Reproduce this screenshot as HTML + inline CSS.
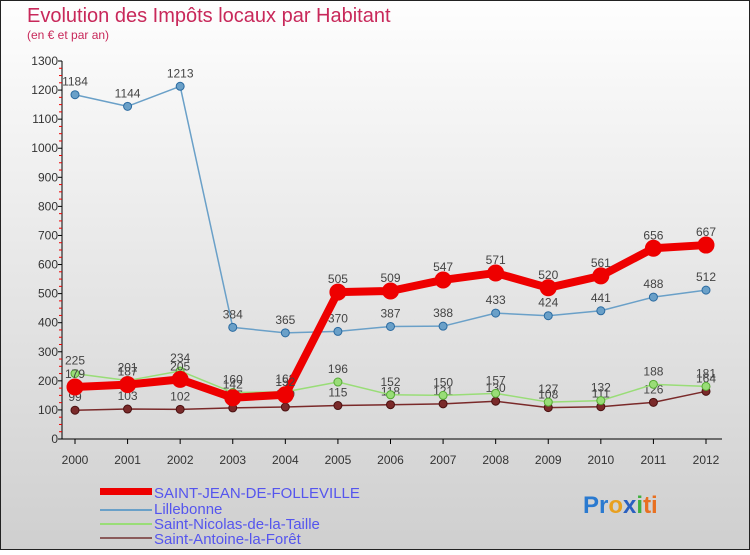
<!DOCTYPE html>
<html><head><meta charset="utf-8"><style>
html,body{margin:0;padding:0}
body{width:750px;height:550px;overflow:hidden;font-family:"Liberation Sans",sans-serif}
</style></head><body>
<svg id="c" width="750" height="550" xmlns="http://www.w3.org/2000/svg">
<defs><linearGradient id="bg" x1="0" y1="0" x2="0" y2="1"><stop offset="0" stop-color="#fefefe"/><stop offset="1" stop-color="#cfcfcf"/></linearGradient></defs>
<rect x="0.5" y="0.5" width="749" height="549" fill="url(#bg)" stroke="#222"/>
<text x="27" y="22" font-size="20" fill="#c8285a">Evolution des Impôts locaux par Habitant</text>
<text x="27" y="39" font-size="12" fill="#c8285a">(en € et par an)</text>
<g id="axes"></g><g id="series"></g>
<g font-size="15" fill="#5555ee">
<rect x="100" y="488" width="52" height="7" fill="#ee0000"/>
<text x="154" y="498">SAINT-JEAN-DE-FOLLEVILLE</text>
<rect x="100" y="509" width="52" height="2" fill="#6aa0c8"/>
<text x="154" y="514">Lillebonne</text>
<rect x="100" y="523" width="52" height="2" fill="#99dd77"/>
<text x="154" y="529">Saint-Nicolas-de-la-Taille</text>
<rect x="100" y="537" width="52" height="2" fill="#8a5a5a"/>
<text x="154" y="544">Saint-Antoine-la-Forêt</text>
</g>
<text x="583" y="513" font-size="24" font-weight="bold"><tspan fill="#2a7ad0">Pr</tspan><tspan fill="#e8a020">o</tspan><tspan fill="#2a60c0">x</tspan><tspan fill="#40b040">i</tspan><tspan fill="#e87020">ti</tspan></text>
</svg>
<script>
const years=["2000","2001","2002","2003","2004","2005","2006","2007","2008","2009","2010","2011","2012"];
const yTicks=[0,100,200,300,400,500,600,700,800,900,1000,1100,1200,1300];
const saintJean=[179,187,205,142,152,505,509,547,571,520,561,656,667];
const lillebonne=[1184,1144,1213,384,365,370,387,388,433,424,441,488,512];
const saintNicolas=[225,201,234,160,162,196,152,150,157,127,132,188,181];
const saintAntoine=[99,103,102,107,110,115,118,121,130,108,111,126,164];
const NS="http://www.w3.org/2000/svg";
const X=i=>75+i*(706-75)/(years.length-1);
const Y=v=>439-v*(439-61)/1300;
function mk(t,a,p){const e=document.createElementNS(NS,t);for(const k in a)e.setAttribute(k,a[k]);p.appendChild(e);return e;}
const ax=document.getElementById('axes'),sr=document.getElementById('series');
const yl=mk('line',{x1:62,y1:61,x2:62,y2:439,stroke:'#000'},ax);


const xl=mk('line',{x1:62,y1:439,x2:722,y2:439,stroke:'#000'},ax);


yTicks.forEach(v=>{
  mk('line',{x1:58,y1:Y(v),x2:62,y2:Y(v),stroke:'#000'},ax);
  if(v<1300){for(let k=1;k<4;k++)mk('line',{x1:59,y1:Y(v+k*25),x2:62,y2:Y(v+k*25),stroke:'#e00'},ax);}
  const t=mk('text',{x:58,y:Y(v)+4,'font-size':12,fill:'#333','text-anchor':'end'},ax);t.textContent=v;
  
  
});
years.forEach((y,i)=>{
  mk('line',{x1:X(i),y1:439,x2:X(i),y2:444,stroke:'#000'},ax);
  const t=mk('text',{x:X(i),y:464,'font-size':12,fill:'#333','text-anchor':'middle'},ax);t.textContent=y;
  
  
});
function series(vals,color,w,r,name,dark){
  const g=mk('g',{},sr);
  
  
  const p=mk('polyline',{points:vals.map((v,i)=>X(i)+','+Y(v)).join(' '),fill:'none',stroke:color,'stroke-width':w,'stroke-linejoin':'round'},g);
  vals.forEach((v,i)=>{
    const c=mk('circle',{cx:X(i),cy:Y(v),r:r,fill:color,stroke:dark,'stroke-width':1},g);
    
    
    const t=mk('text',{x:X(i),y:Y(v)-9,'font-size':12,fill:'#444','text-anchor':'middle'},g);t.textContent=v;
    
    
  });
}
series(saintAntoine,'#7a2a2a',1.5,4,'saint-antoine','#4a1010');
series(saintNicolas,'#99dd77',1.5,4,'saint-nicolas','#55aa33');
series(lillebonne,'#6aa0c8',1.5,4,'lillebonne','#2a6aa0');
series(saintJean,'#ee0000',8,8,'saint-jean','#ee0000');
</script>
</body></html>
